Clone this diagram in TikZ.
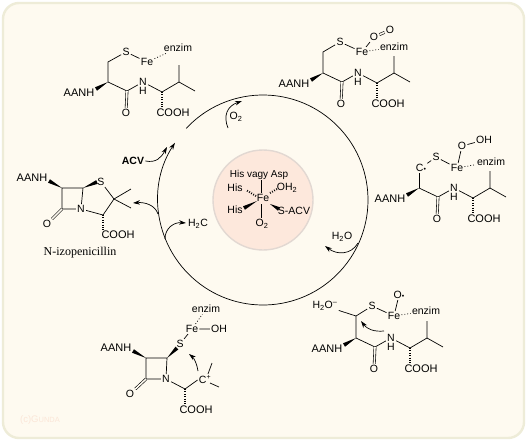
\documentclass[tikz,border=0pt]{standalone}
\usepackage{fontspec}
\setmainfont{Liberation Sans}
\newfontfamily\captionserif{Liberation Serif}
\usetikzlibrary{arrows.meta,calc}

\definecolor{paper}{HTML}{FEFAF0}
\definecolor{paperedge}{HTML}{EEECD8}
\definecolor{corefill}{HTML}{FDE8DC}
\definecolor{coreedge}{HTML}{E2D8D2}
\definecolor{stamp}{HTML}{FBE6D8}

% narrow end first, wide end second
\newcommand{\wedgebond}[2]{\fill (#1) -- ($(#2)!2pt!90:(#1)$) -- ($(#2)!2pt!-90:(#1)$) -- cycle;}

% the part shared by the four open intermediates
\newcommand{\peptidetail}[3]{
	\begin{scope}[shift={(#2,#3)}]
		\coordinate (#1ca) at (0,0);
		\coordinate (#1wd) at (-12,7);
		\coordinate (#1co) at (19,9);
		\coordinate (#1cb) at (54,10);
		\coordinate (#1hs) at (54,26);
		\coordinate (#1cp) at (71,0);
		\coordinate (#1up) at (71,-17);
		\coordinate (#1me) at (87,9);
		\node[group] (#1aa) at (-29,11) {AANH};
		\node[atom] (#1ox) at (18,31) {O};
		\node[atom] (#1nn) at (35,0) {N};
		\node[atom] (#1hh) at (35,9) {H};
		\node[group] (#1ac) at (65,31) {COOH};
		\wedgebond{#1ca}{#1wd}
		\draw (#1ca) -- (#1co) -- (#1nn) -- (#1cb) -- (#1cp) -- (#1up);
		\draw (#1cp) -- (#1me);
		\draw[dbl] (#1co) -- (#1ox);
		\draw[hashed] (#1cb) -- (#1hs);
	\end{scope}
}

\begin{document}
\begin{tikzpicture}[
		x=1pt, y=-1pt,
		line width=0.7pt,
		atom/.style={inner sep=1pt, font=\fontsize{10.5}{12}\selectfont},
		group/.style={inner sep=1pt, font=\fontsize{11}{12}\selectfont},
		dbl/.style={double=paper, double distance=1.6pt, line width=0.6pt},
		hashed/.style={line width=2.6pt, dash pattern=on 0.8pt off 1.6pt},
		weak/.style={dash pattern=on 0.9pt off 2pt},
		arrow/.style={-{Stealth[length=7pt, width=4.5pt]}}
	]
	\path[fill=white] (0,0) rectangle (529,442);
	\useasboundingbox (0,0) rectangle (529,442);
	\draw[fill=paper, draw=paperedge, line width=2.4pt, rounded corners=16pt] (3,3) rectangle (524,438);
	\node[text=stamp, inner sep=0pt, font=\fontsize{9.5}{11}\selectfont] (stampmark) at (40,420) {(c)G{\fontsize{7.5}{11}\selectfont UNDA}};

	% cycle
	\coordinate (hub) at (263,200);
	\draw[arrow] (hub) ++(-137:105) coordinate (ringstart) arc (-137:213:105) coordinate (ringend);
	\node[circle, draw=coreedge, fill=corefill, line width=1.4pt, minimum size=100pt, inner sep=0pt] (core) at (hub) {};

	% iron centre
	\node[atom] (fecore) at (263,198) {Fe};
	\node[atom, font=\fontsize{10}{12}\selectfont] (axtop) at (259,175) {His vagy Asp};
	\node[atom] (axbot) at (262,224) {O\textsubscript{2}};
	\node[atom] (hisup) at (235,188) {His};
	\node[atom] (hisdn) at (235,210) {His};
	\node[atom] (water) at (287,188) {OH\textsubscript{2}};
	\node[atom] (sacv) at (294,211) {S-ACV};
	\coordinate (fetop) at (261,180);
	\coordinate (fetopin) at (261,193);
	\coordinate (febot) at (261,204);
	\coordinate (febotin) at (261,218);
	\coordinate (hisupa) at (256,196);
	\coordinate (hisupb) at (246,190);
	\coordinate (watera) at (270,193);
	\coordinate (waterb) at (277,189);
	\coordinate (hisdna) at (257,201);
	\coordinate (hisdnb) at (244,208);
	\coordinate (sacva) at (270,204);
	\coordinate (sacvb) at (279,209);
	\draw (fetop) -- (fetopin);
	\draw (febot) -- (febotin);
	\draw[hashed, line width=2pt] (hisupa) -- (hisupb);
	\draw[hashed, line width=2pt] (watera) -- (waterb);
	\wedgebond{hisdna}{hisdnb}
	\wedgebond{sacva}{sacvb}

	% top left
	\peptidetail{a}{108}{82}
	\coordinate (avert) at (108,62);
	\node[atom] (asul) at (126,52) {S};
	\node[atom] (afe) at (147,62) {Fe};
	\node[atom] (aenz) at (178,48) {enzim};
	\draw (aca) -- (avert) -- (asul) -- (afe);
	\draw[weak] (afe) -- (aenz);

	% top right
	\peptidetail{b}{323}{73}
	\coordinate (bvert) at (323,52);
	\node[atom] (bsul) at (340,42) {S};
	\node[atom] (bfe) at (362,52) {Fe};
	\node[atom] (bo) at (374,37) {O};
	\node[atom] (boo) at (390,30) {O};
	\node[atom] (benz) at (394,47) {enzim};
	\draw (bca) -- (bvert) -- (bsul) -- (bfe) -- (bo);
	\draw[dbl] (bo) -- (boo);
	\draw[weak] (bfe) -- (benz);

	% right
	\peptidetail{c}{419}{188}
	\node[atom] (cvert) at (421,168) {C{\scriptsize\textbullet}};
	\node[atom] (csul) at (436,157) {S};
	\node[atom] (cfe) at (457,168) {Fe};
	\node[atom] (co) at (462,146) {O};
	\node[atom] (coh) at (484,140) {OH};
	\node[atom] (cenz) at (491,162) {enzim};
	\draw (cca) -- (cvert.south west -| cca);
	\draw (cvert) -- (csul) -- (cfe) -- (co) -- (coh);
	\draw[weak] (cfe) -- (cenz);

	% lower right
	\peptidetail{d}{356}{338}
	\coordinate (dvert) at (356,316);
	\node[atom] (dwat) at (325,306) {H\textsubscript{2}O\textsuperscript{--}};
	\node[atom] (dsul) at (372,306) {S};
	\node[atom] (dfe) at (394,316) {Fe};
	\node[atom] (dox) at (399,295) {O{\scriptsize\textbullet}};
	\node[atom] (denz) at (426,311) {enzim};
	\draw (dca) -- (dvert) -- (dsul) -- (dfe) -- (dox);
	\draw (dwat) -- (dvert);
	\draw[weak] (dfe) -- (denz);
	\coordinate (dshift) at (384,331);
	\coordinate (dshiftend) at (361,321);
	\draw[arrow] (dshift) .. controls (374,332) and (367,329) .. (dshiftend);

	% bottom
	\coordinate (era) at (146,358);
	\coordinate (erb) at (167,358);
	\coordinate (erd) at (146,379);
	\coordinate (ewa) at (133,351);
	\coordinate (ewb) at (177,348);
	\coordinate (ech) at (185,389);
	\coordinate (ehs) at (185,405);
	\coordinate (eupa) at (208,374);
	\coordinate (eup) at (212,363);
	\coordinate (emea) at (210,383);
	\coordinate (eme) at (219,387);
	\node[atom] (en) at (166,379) {N};
	\node[group] (eaa) at (116,348) {AANH};
	\node[atom] (eox) at (130,394) {O};
	\node[group] (eac) at (196,410) {COOH};
	\node[atom] (esul) at (180,344) {S};
	\node[atom] (efe) at (192,329) {Fe};
	\node[atom] (eoh) at (219,329) {OH};
	\node[atom] (eenz) at (206,309) {enzim};
	\node[atom] (ecat) at (205,380) {C\textsuperscript{\scriptsize+}};
	\draw (en) -- (erb) -- (era) -- (erd) -- (en);
	\draw (en) -- (ech) -- (ecat.west);
	\draw (eupa) -- (eup);
	\draw (emea) -- (eme);
	\draw[dbl] (erd) -- (eox);
	\draw[hashed] (ech) -- (ehs);
	\draw (esul) -- (efe) -- (eoh);
	\draw[weak] (efe) -- (eenz);
	\wedgebond{era}{ewa}
	\wedgebond{erb}{ewb}
	\coordinate (eshift) at (198,371);
	\coordinate (eshiftend) at (189,354);
	\draw[arrow] (eshift) .. controls (197,364) and (194,358) .. (eshiftend);

	% N-izopenicillin
	\coordinate (fra) at (62,188);
	\coordinate (frb) at (83,188);
	\coordinate (frd) at (62,209);
	\coordinate (fwa) at (49,181);
	\coordinate (fwb) at (97,182);
	\coordinate (fqc) at (114,199);
	\coordinate (fm1) at (131,189);
	\coordinate (fm2) at (131,208);
	\coordinate (fch) at (103,215);
	\coordinate (fhs) at (103,230);
	\node[atom] (fn) at (81,209) {N};
	\node[group] (faa) at (32,178) {AANH};
	\node[atom] (fsul) at (101,182) {S};
	\node[atom] (fox) at (47,224) {O};
	\node[group] (fac) at (118,235) {COOH};
	\node[font=\fontsize{12}{14}\selectfont\captionserif, inner sep=0pt] (fname) at (80,253) {N-izopenicillin};
	\draw (fn) -- (frb) -- (fra) -- (frd) -- (fn);
	\draw (fsul) -- (fqc) -- (fch) -- (fn);
	\draw (fm1) -- (fqc) -- (fm2);
	\draw[dbl] (frd) -- (fox);
	\draw[hashed] (fch) -- (fhs);
	\wedgebond{fra}{fwa}
	\wedgebond{frb}{fwb}

	% side arrows on the cycle
	\node[font=\fontsize{10.5}{12}\selectfont\bfseries, inner sep=1pt] (acv) at (133,161) {ACV};
	\coordinate (acvin) at (167,147);
	\draw[arrow] (acv.east) .. controls (156,163) and (161,158) .. (acvin);

	\node[atom] (oxin) at (236,117) {O\textsubscript{2}};
	\coordinate (oxa) at (228,128);
	\coordinate (oxb) at (242,101);
	\draw[arrow] (oxa) .. controls (223,116) and (227,106) .. (oxb);

	\node[atom] (waterout) at (342,237) {H\textsubscript{2}O};
	\coordinate (wata) at (358,243);
	\coordinate (watb) at (325,246);
	\draw[arrow] (wata) .. controls (351,255) and (337,255) .. (watb);

	\node[atom] (hcout) at (198,224) {H\textsubscript{2}C};
	\coordinate (hca) at (165,239);
	\coordinate (hcb) at (186,223);
	\draw[arrow] (hca) .. controls (165,228) and (174,222) .. (hcb);

	\coordinate (pena) at (158,214);
	\coordinate (penb) at (133,203);
	\draw[arrow] (pena) .. controls (155,205) and (145,202) .. (penb);
\end{tikzpicture}
\end{document}
